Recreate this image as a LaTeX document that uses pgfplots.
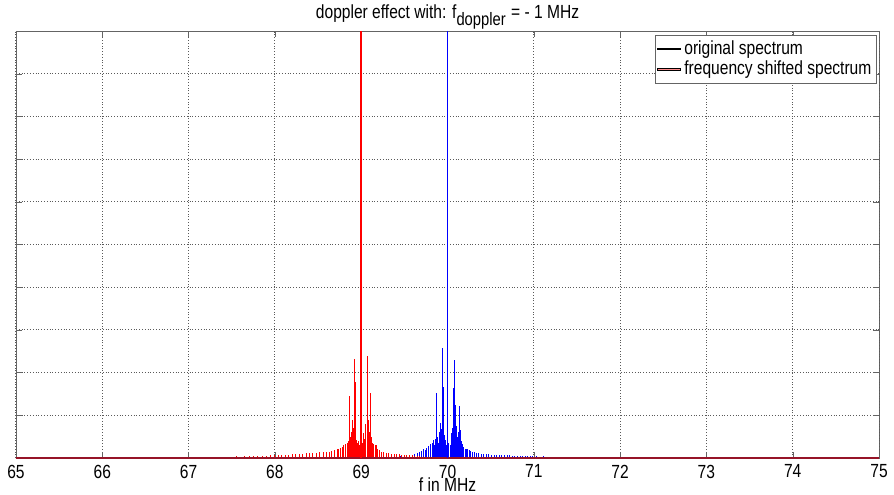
\documentclass[border=0pt]{standalone}
\usepackage{pgfplots}
\pgfplotsset{compat=1.18}
\usepackage{fontspec}
\setmainfont[FakeStretch=0.82]{Liberation Sans}
\definecolor{mblue}{RGB}{0,0,255}
\definecolor{mred}{RGB}{255,0,0}
\definecolor{lblue}{RGB}{130,130,255}
\definecolor{lred}{RGB}{255,140,140}
\definecolor{dred}{RGB}{150,20,40}
\definecolor{gridc}{RGB}{90,90,90}
\definecolor{axc}{RGB}{100,100,100}
\begin{document}
\fontsize{9.5}{11.5}\selectfont
\begin{tikzpicture}
\begin{axis}[
  name=ax,
  scale only axis,
  width=431.5pt, height=213.5pt,
  xmin=65, xmax=75, ymin=0, ymax=1,
  xtick={65,66,...,75},
  ytick={0,0.1,...,1.01},
  yticklabels={},
  /pgf/number format/assume math mode=true,
  tick label style={font=\fontsize{9.5}{11}\selectfont},
  xmajorgrids=false,
  ymajorgrids=true,
  extra x ticks={65,66,67,68,71,72,73,74,75},
  extra x tick labels={},
  extra x tick style={xmajorgrids=true},
  grid style={densely dotted, color=gridc, line width=0.5pt},
  tick align=inside,
  major tick length=3pt,
  axis line style={color=axc},
  tick style={color=axc},
  title={doppler effect with: f$_{\mbox{\fontsize{9}{10}\selectfont doppler}}$ = - 1 MHz},
  title style={font=\fontsize{9.5}{11}\selectfont, yshift=-8.5pt},
  xlabel={f in MHz},
  xlabel style={font=\fontsize{9.5}{11}\selectfont, yshift=6.8pt},
  legend style={at={(1,1)}, anchor=north east, xshift=-1pt, yshift=-2pt,
    draw=axc, font=\fontsize{9.5}{11}\selectfont, inner sep=0.6pt,
    row sep=-2pt, cells={anchor=west}},
]
\addlegendimage{legend image code/.code={\fill[fill=lblue] (0cm,-0.35pt) rectangle (0.4cm,0.35pt);}}
\addlegendentry{original spectrum}
\addlegendimage{legend image code/.code={\fill[fill=lred] (0cm,-0.35pt) rectangle (0.4cm,0.35pt);}}
\addlegendentry{frequency shifted spectrum}

% original spectrum (blue)
\addplot[ycomb, color=mblue, line width=0.45pt, forget plot] coordinates {
(69.40,0.003) (69.45,0.004) (69.50,0.005) (69.53,0.006) (69.56,0.007) (69.59,0.008)
(69.62,0.010) (69.65,0.012) (69.68,0.014) (69.70,0.017) (69.72,0.020) (69.74,0.018)
(69.76,0.024) (69.78,0.028) (69.80,0.032) (69.82,0.036) (69.836,0.042) (69.85,0.030)
(69.86,0.045) (69.875,0.153) (69.886,0.050) (69.895,0.035) (69.905,0.060) (69.917,0.081)
(69.928,0.067) (69.940,0.257) (69.951,0.167) (69.961,0.055) (69.971,0.042) (69.985,0.030)
(70.015,0.035) (70.029,0.030) (70.040,0.045) (70.048,0.058) (70.058,0.070)
(70.067,0.163) (70.079,0.230) (70.090,0.125) (70.100,0.075) (70.113,0.050) (70.125,0.060)
(70.137,0.122) (70.153,0.066) (70.165,0.040) (70.176,0.032) (70.19,0.025) (70.205,0.022)
(70.22,0.020) (70.235,0.021) (70.25,0.018) (70.27,0.016) (70.29,0.015) (70.31,0.013)
(70.33,0.012) (70.36,0.011) (70.39,0.010) (70.42,0.010) (70.45,0.009) (70.48,0.009)
(70.51,0.008) (70.54,0.008) (70.57,0.007) (70.60,0.007) (70.63,0.007) (70.66,0.006)
(70.69,0.006) (70.72,0.006) (70.75,0.005) (70.78,0.005) (70.81,0.005) (70.84,0.005)
(70.87,0.004) (70.90,0.004) (70.93,0.004) (70.96,0.004) (70.99,0.004) (71.03,0.004)
(71.07,0.003) (71.11,0.004) (71.15,0.003) (71.19,0.003) (71.23,0.003) (71.27,0.003)
(71.31,0.003) (71.35,0.002) (71.39,0.003) (71.43,0.002) (71.47,0.003) (71.51,0.002)
(71.55,0.002) (71.59,0.002) (71.63,0.002) (71.67,0.002) (71.71,0.002) (71.75,0.002)
(71.79,0.002)
};

% frequency shifted spectrum (red)
\addplot[ycomb, color=mred, line width=0.45pt, forget plot] coordinates {
(67.20,0.002) (67.25,0.002) (67.30,0.003) (67.35,0.002) (67.40,0.003) (67.45,0.003)
(67.50,0.003) (67.55,0.004) (67.60,0.003) (67.65,0.004) (67.70,0.004) (67.75,0.004)
(67.80,0.005) (67.85,0.005) (67.90,0.005) (67.95,0.006) (68.00,0.006) (68.04,0.007)
(68.08,0.007) (68.12,0.008) (68.16,0.008) (68.20,0.009) (68.24,0.009) (68.28,0.010)
(68.32,0.010) (68.36,0.011) (68.40,0.011) (68.44,0.012) (68.48,0.012) (68.52,0.013)
(68.56,0.013) (68.60,0.014) (68.63,0.015) (68.66,0.016) (68.69,0.018) (68.72,0.020)
(68.74,0.022) (68.76,0.024) (68.78,0.025) (68.80,0.030) (68.82,0.033) (68.835,0.035)
(68.85,0.040) (68.862,0.146) (68.875,0.050) (68.883,0.060) (68.893,0.089) (68.905,0.070)
(68.917,0.231) (68.930,0.179) (68.940,0.042) (68.955,0.035) (68.970,0.040) (68.985,0.030)
(69.012,0.035) (69.024,0.058) (69.035,0.045) (69.044,0.050) (69.055,0.080)
(69.067,0.240) (69.082,0.090) (69.092,0.060) (69.102,0.152) (69.112,0.070) (69.120,0.050)
(69.132,0.035) (69.145,0.032) (69.16,0.030) (69.175,0.030) (69.19,0.022) (69.21,0.018)
(69.23,0.015) (69.26,0.013) (69.29,0.012) (69.32,0.011) (69.35,0.010) (69.38,0.010)
(69.41,0.009) (69.44,0.009) (69.47,0.008) (69.50,0.008) (69.53,0.007) (69.56,0.007)
(69.59,0.006) (69.62,0.005) (69.65,0.005) (69.68,0.004) (69.71,0.003) (69.75,0.002)
};

% baseline of both spectra
\addplot[color=mblue, line width=0.6pt, forget plot] coordinates {(65,0) (75,0)};
\addplot[color=dred, line width=0.6pt, forget plot] coordinates {(65,0) (75,0)};

% main carrier lines, drawn as thin filled bars
\addplot[ybar, bar width=0.9pt, bar shift=0pt, fill=mblue, draw=none, forget plot] coordinates {(70.000,1.0)};
\addplot[ybar, bar width=0.9pt, bar shift=0pt, fill=mred, draw=none, forget plot] coordinates {(69.000,1.0)};
\end{axis}
\pgfresetboundingbox
\path ([shift={(-8pt,-18pt)}]ax.south west) rectangle ([shift={(7.5pt,15.5pt)}]ax.north east);
\end{tikzpicture}
\end{document}
